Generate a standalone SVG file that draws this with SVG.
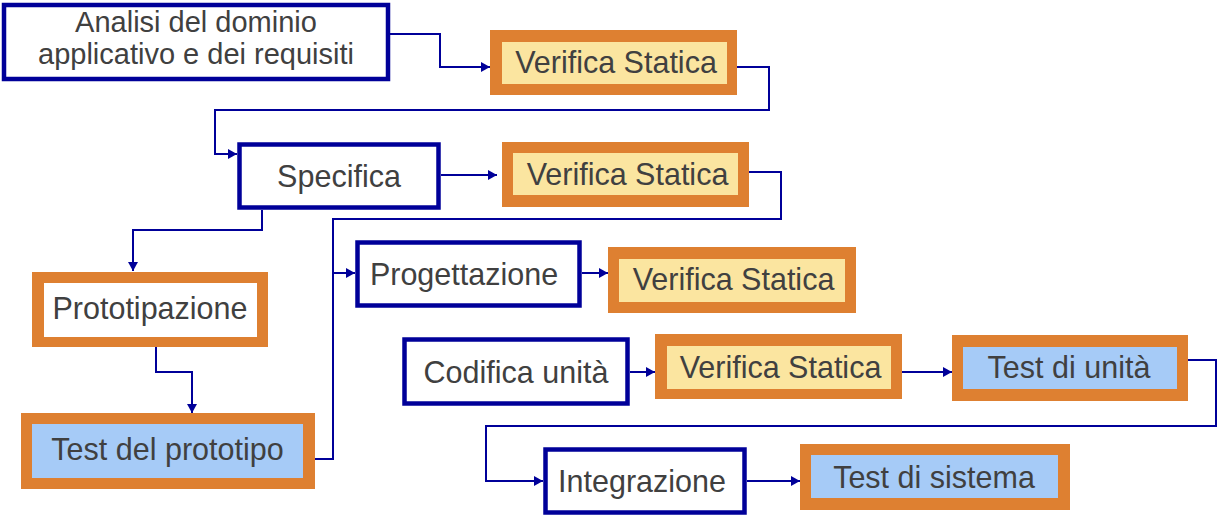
<svg xmlns="http://www.w3.org/2000/svg" width="1218" height="516" viewBox="0 0 1218 516">
<style>
.blue{fill:#ffffff;stroke:#000099;stroke-width:4.5}
.orng{fill:#DE8031}
.yel{fill:#FBE5A0}
.lb{fill:#A6CBF7}
.wh{fill:#ffffff}
.t{font-family:"Liberation Sans",Arial,sans-serif;font-size:30.5px;fill:#404040;text-anchor:middle}
.t2{font-size:29px}
.c{fill:none;stroke:#000099;stroke-width:2}
.a{marker-end:url(#arr)}
</style>
<defs>
<marker id="arr" markerUnits="userSpaceOnUse" markerWidth="10" markerHeight="11" refX="9" refY="5.5" orient="auto">
<path d="M0,0.5 L9,5.5 L0,10.5 z" fill="#000099"/>
</marker>
</defs>
<rect width="1218" height="516" fill="#ffffff"/>
<g id="connectors">
<path class="c a" d="M390,34 H440 V67 H490"/>
<path class="c a" d="M737,67 H769 V110 H215 V154 H237"/>
<path class="c a" d="M441,175 H497"/>
<path class="c a" d="M749,172 H781 V219 H333 V273 H355"/>
<path class="c" d="M315,459 H333 V273"/>
<path class="c a" d="M582,273 H608"/>
<path class="c a" d="M262,210 V230 H133 V271"/>
<path class="c a" d="M156,347 V372 H192 V413"/>
<path class="c a" d="M630,372 H655"/>
<path class="c a" d="M902,372 H952"/>
<path class="c a" d="M1188,360 H1216 V426 H486 V481 H543"/>
<path class="c a" d="M747,481 H800"/>
</g>
<g id="analisi">
<rect class="blue" x="4" y="5" width="384" height="74"/>
<text class="t t2" x="196" y="31.5">Analisi del dominio</text>
<text class="t t2" x="196" y="64">applicativo e dei requisiti</text>
</g>
<g id="verifica1">
<rect class="orng" x="490" y="30" width="247" height="65"/>
<rect class="yel" x="502" y="42" width="225" height="42"/>
<text class="t" x="616" y="73">Verifica Statica</text>
</g>
<g id="specifica">
<rect class="blue" x="239.5" y="144.5" width="199" height="63"/>
<text class="t" x="339" y="187">Specifica</text>
</g>
<g id="verifica2">
<rect class="orng" x="502" y="142" width="247" height="65"/>
<rect class="yel" x="513" y="153" width="225" height="42"/>
<text class="t" x="627.5" y="185">Verifica Statica</text>
</g>
<g id="prototipazione">
<rect class="orng" x="32" y="272" width="236" height="75"/>
<rect class="wh" x="44" y="283" width="213" height="54"/>
<text class="t" x="150" y="319">Prototipazione</text>
</g>
<g id="test-prototipo">
<rect class="orng" x="21" y="413" width="294" height="76"/>
<rect class="lb" x="32" y="424" width="271" height="54"/>
<text class="t" x="167.5" y="460">Test del prototipo</text>
</g>
<g id="progettazione">
<rect class="blue" x="357.5" y="242.5" width="222" height="63"/>
<text class="t" x="464" y="285">Progettazione</text>
</g>
<g id="verifica3">
<rect class="orng" x="608" y="247" width="248" height="66"/>
<rect class="yel" x="619" y="259" width="226" height="43"/>
<text class="t" x="733.5" y="290">Verifica Statica</text>
</g>
<g id="codifica">
<rect class="blue" x="404.5" y="339.5" width="223" height="64"/>
<text class="t" x="516" y="383">Codifica unità</text>
</g>
<g id="verifica4">
<rect class="orng" x="655" y="334" width="247" height="65"/>
<rect class="yel" x="667" y="346" width="224" height="43"/>
<text class="t" x="780.5" y="378">Verifica Statica</text>
</g>
<g id="test-unita">
<rect class="orng" x="952" y="335" width="236" height="66"/>
<rect class="lb" x="963" y="347" width="214" height="42"/>
<text class="t" x="1069" y="378">Test di unità</text>
</g>
<g id="integrazione">
<rect class="blue" x="545.5" y="449.5" width="199" height="63"/>
<text class="t" x="642" y="492">Integrazione</text>
</g>
<g id="test-sistema">
<rect class="orng" x="800" y="444" width="270" height="66"/>
<rect class="lb" x="811" y="455" width="247" height="43"/>
<text class="t" x="934" y="488">Test di sistema</text>
</g>
</svg>
